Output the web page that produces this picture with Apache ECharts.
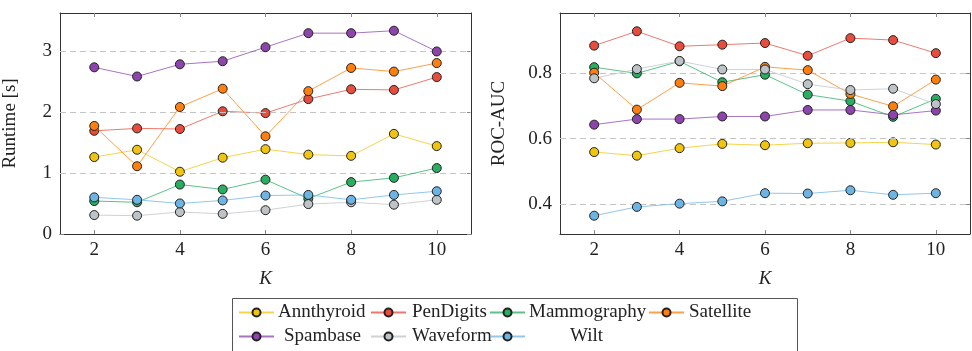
<!DOCTYPE html>
<html><head><meta charset="utf-8">
<script src="https://cdn.jsdelivr.net/npm/echarts@6/dist/echarts.min.js"></script>
<style>html,body{margin:0;padding:0;background:#fff}#c{width:972px;height:351px}</style>
</head><body><div id="c"></div>
<script>
const K = [2, 3, 4, 5, 6, 7, 8, 9, 10];
const names = ['Annthyroid', 'PenDigits', 'Mammography', 'Satellite', 'Spambase', 'Waveform', 'Wilt'];
const colors = ['#f1c40f', '#e74c3c', '#27ae60', '#ff7f0e', '#8e44ad', '#bdc3c7', '#6cb4e4'];

// Runtime [s]
const rtAnnthyroid  = [1.26, 1.38, 1.02, 1.25, 1.39, 1.30, 1.28, 1.64, 1.44];
const rtPenDigits   = [1.69, 1.73, 1.72, 2.01, 1.98, 2.21, 2.37, 2.36, 2.57];
const rtMammography = [0.54, 0.52, 0.81, 0.73, 0.89, 0.58, 0.85, 0.92, 1.08];
const rtSatellite   = [1.77, 1.11, 2.08, 2.38, 1.60, 2.34, 2.72, 2.66, 2.80];
const rtSpambase    = [2.73, 2.58, 2.78, 2.83, 3.06, 3.29, 3.29, 3.33, 2.99];
const rtWaveform    = [0.31, 0.30, 0.36, 0.33, 0.39, 0.49, 0.52, 0.48, 0.56];
const rtWilt        = [0.60, 0.56, 0.50, 0.55, 0.63, 0.64, 0.56, 0.64, 0.70];

// ROC-AUC
const aucAnnthyroid  = [0.559, 0.548, 0.571, 0.584, 0.580, 0.586, 0.587, 0.589, 0.582];
const aucPenDigits   = [0.885, 0.929, 0.883, 0.888, 0.893, 0.854, 0.908, 0.902, 0.862];
const aucMammography = [0.819, 0.800, 0.837, 0.773, 0.796, 0.735, 0.715, 0.667, 0.722];
const aucSatellite   = [0.802, 0.689, 0.771, 0.761, 0.820, 0.810, 0.737, 0.699, 0.781];
const aucSpambase    = [0.643, 0.660, 0.660, 0.668, 0.668, 0.688, 0.688, 0.673, 0.686];
const aucWaveform    = [0.785, 0.813, 0.838, 0.812, 0.812, 0.767, 0.749, 0.753, 0.706];
const aucWilt        = [0.364, 0.391, 0.401, 0.408, 0.433, 0.432, 0.442, 0.428, 0.433];

const xTicks = [2, 4, 6, 8, 10];
const rtTicks = [0, 1, 2, 3];
const aucTicks = [0.4, 0.6, 0.8];

const runtime = [rtAnnthyroid, rtPenDigits, rtMammography, rtSatellite, rtSpambase, rtWaveform, rtWilt];
const auc = [aucAnnthyroid, aucPenDigits, aucMammography, aucSatellite, aucSpambase, aucWaveform, aucWilt];

const FONT = 'Liberation Serif';
const FS = 19;
const frame = '#333';
const tickCol = '#888';

function xAx(gi, pos, labels) {
  return {
    type: 'value', gridIndex: gi, position: pos, min: 1.2, max: 10.8,
    axisLine: { show: true, onZero: false, lineStyle: { color: frame, width: 1 } },
    axisTick: { show: true, inside: true, length: 4, customValues: xTicks, lineStyle: { color: tickCol } },
    axisLabel: { show: labels, customValues: xTicks, margin: 7, fontFamily: FONT, fontSize: FS, color: '#222' },
    splitLine: { show: false },
    name: labels ? 'K' : '', nameLocation: 'middle', nameGap: 35,
    nameTextStyle: { fontFamily: FONT, fontSize: FS, fontStyle: 'italic', color: '#222' }
  };
}
function yAx(gi, pos, min, max, ticks, labels, name, gap) {
  return {
    type: 'value', gridIndex: gi, position: pos, min: min, max: max,
    axisLine: { show: true, onZero: false, lineStyle: { color: frame, width: 1 } },
    axisTick: { show: true, inside: true, length: 4, customValues: ticks, lineStyle: { color: tickCol } },
    axisLabel: { show: labels, customValues: ticks, margin: 8, fontFamily: FONT, fontSize: FS, color: '#222' },
    splitLine: { show: false },
    name: labels ? name : '', nameLocation: 'middle', nameGap: gap, nameRotate: 90,
    nameTextStyle: { fontFamily: FONT, fontSize: FS, color: '#222' }
  };
}

const series = [];
names.forEach((n, i) => {
  const base = {
    name: n, type: 'line', symbol: 'circle', symbolSize: 9, z: 3 + i,
    itemStyle: { color: colors[i], borderColor: '#222', borderWidth: 1 },
    lineStyle: { color: colors[i], width: 1, opacity: 0.75 },
    emphasis: { disabled: true }, animation: false
  };
  series.push(Object.assign({}, base, { xAxisIndex: 0, yAxisIndex: 0, data: K.map((k, j) => [k, runtime[i][j]]) }));
  series.push(Object.assign({}, base, { xAxisIndex: 2, yAxisIndex: 2, data: K.map((k, j) => [k, auc[i][j]]) }));
});

// dashed grid lines from tick arrays (skip those on the frame)
function gridLines(xi, yi, ticks, min) {
  return {
    type: 'line', xAxisIndex: xi, yAxisIndex: yi, data: [], silent: true, z: 1,
    markLine: {
      silent: true, symbol: 'none', label: { show: false }, animation: false,
      lineStyle: { color: '#c4c4c4', type: [6, 4], width: 1 },
      data: ticks.filter(t => t > min).map(t => ({ yAxis: t }))
    }
  };
}
series.push(gridLines(0, 0, rtTicks, 0));
series.push(gridLines(2, 2, aucTicks, 0.308));

// legend layout: [left, top, gap between icon and text]
const legendPos = [[238, 303, 4], [370, 303, 6], [489, 303, 4], [648, 303, 5],
                   [238, 327, 10], [370, 327, 6], [489, 327, 45]];
const legends = names.map((n, i) => ({
  data: [n], left: legendPos[i][0], top: legendPos[i][1], orient: 'horizontal',
  itemWidth: 35, itemHeight: 10, itemGap: 0, padding: 0, selectedMode: false,
  textStyle: { fontFamily: FONT, fontSize: FS, color: '#222', padding: [0, 0, 0, legendPos[i][2] - 5] }
}));

const chart = echarts.init(document.getElementById('c'), null, { renderer: 'canvas' });
chart.setOption({
  animation: false,
  backgroundColor: '#fff',
  grid: [
    { left: 60, top: 13, width: 411, height: 221 },
    { left: 560, top: 13, width: 410, height: 221 }
  ],
  xAxis: [xAx(0, 'bottom', true), xAx(0, 'top', false), xAx(1, 'bottom', true), xAx(1, 'top', false)],
  yAxis: [
    yAx(0, 'left', 0, 3.62, rtTicks, true, 'Runtime [s]', 40),
    yAx(0, 'right', 0, 3.62, rtTicks, false, '', 0),
    yAx(1, 'left', 0.308, 0.985, aucTicks, true, 'ROC-AUC', 51),
    yAx(1, 'right', 0.308, 0.985, aucTicks, false, '', 0)
  ],
  legend: legends,
  graphic: [{
    type: 'rect', shape: { x: 232.5, y: 298.5, width: 565, height: 70 },
    style: { fill: 'none', stroke: '#555', lineWidth: 1 }, z: 0
  }],
  series: series
});
</script></body></html>
